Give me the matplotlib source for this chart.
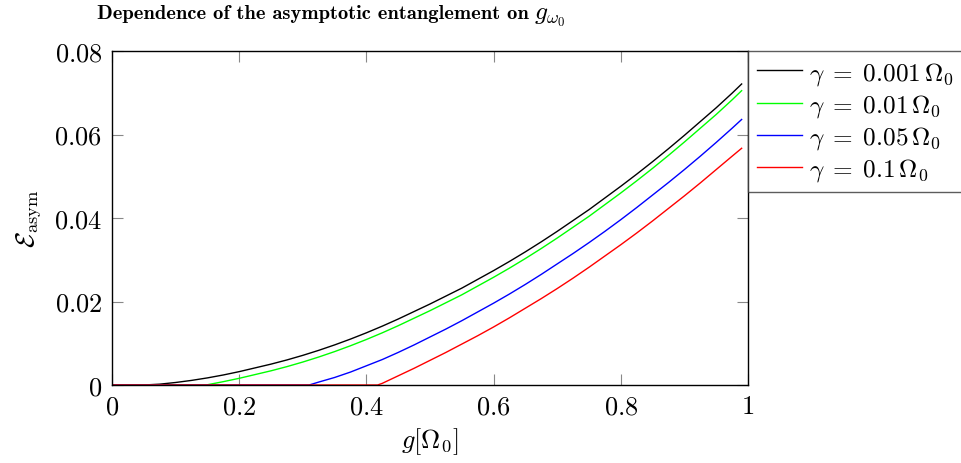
import matplotlib
matplotlib.use("Agg")
import matplotlib.pyplot as plt
from matplotlib.ticker import FixedLocator, FixedFormatter

plt.rcParams['mathtext.fontset'] = 'cm'
plt.rcParams['font.family'] = 'serif'
plt.rcParams['font.serif'] = ['cmr10', 'DejaVu Serif']
plt.rcParams['axes.unicode_minus'] = False

# ---- data ----
g_black = [0.0, 0.05, 0.075, 0.1, 0.125, 0.15, 0.175, 0.2, 0.225, 0.25, 0.275, 0.3, 0.325,
           0.35, 0.375, 0.4, 0.425, 0.45, 0.475, 0.5, 0.525, 0.55, 0.575, 0.6, 0.625, 0.65,
           0.675, 0.7, 0.725, 0.75, 0.775, 0.8, 0.825, 0.85, 0.875, 0.9, 0.925, 0.95, 0.975, 0.99]
e_black = [0.0, 0.0, 0.0002, 0.0006, 0.0011, 0.0017, 0.0024, 0.0032, 0.0041, 0.0050, 0.0060,
           0.0071, 0.0083, 0.0096, 0.0110, 0.0125, 0.0141, 0.0158, 0.0176, 0.0194, 0.0213,
           0.0232, 0.0253, 0.0274, 0.0296, 0.0319, 0.0343, 0.0368, 0.0394, 0.0420, 0.0448,
           0.0476, 0.0505, 0.0535, 0.0566, 0.0598, 0.0631, 0.0664, 0.0699, 0.0721]

g_green = [0.0, 0.148, 0.175, 0.2, 0.225, 0.25, 0.275, 0.3, 0.325, 0.35, 0.375, 0.4, 0.425,
           0.45, 0.475, 0.5, 0.525, 0.55, 0.575, 0.6, 0.625, 0.65, 0.675, 0.7, 0.725, 0.75,
           0.775, 0.8, 0.825, 0.85, 0.875, 0.9, 0.925, 0.95, 0.975, 0.99]
e_green = [0.0, 0.0, 0.0008, 0.0016, 0.0025, 0.0034, 0.0044, 0.0055, 0.0067, 0.0080, 0.0094,
           0.0109, 0.0125, 0.0142, 0.0160, 0.0178, 0.0197, 0.0216, 0.0237, 0.0258, 0.0280,
           0.0303, 0.0327, 0.0352, 0.0378, 0.0404, 0.0432, 0.0460, 0.0489, 0.0519, 0.0550,
           0.0582, 0.0615, 0.0648, 0.0683, 0.0705]

g_blue = [0.0, 0.31, 0.325, 0.35, 0.375, 0.4, 0.425, 0.45, 0.475, 0.5, 0.525, 0.55, 0.575,
          0.6, 0.625, 0.65, 0.675, 0.7, 0.725, 0.75, 0.775, 0.8, 0.825, 0.85, 0.875, 0.9,
          0.925, 0.95, 0.975, 0.99]
e_blue = [0.0, 0.0, 0.0007, 0.0018, 0.0031, 0.0046, 0.0061, 0.0078, 0.0096, 0.0115, 0.0134,
          0.0154, 0.0175, 0.0196, 0.0218, 0.0241, 0.0265, 0.0290, 0.0315, 0.0341, 0.0368,
          0.0396, 0.0425, 0.0455, 0.0485, 0.0516, 0.0548, 0.0581, 0.0615, 0.0636]

g_red = [0.0, 0.4176, 0.425, 0.45, 0.475, 0.5, 0.525, 0.55, 0.575, 0.6, 0.625, 0.65, 0.675,
         0.7, 0.725, 0.75, 0.775, 0.8, 0.825, 0.85, 0.875, 0.9, 0.925, 0.95, 0.975, 0.99]
e_red = [0.0, 0.0, 0.0004, 0.0022, 0.0040, 0.0059, 0.0078, 0.0098, 0.0118, 0.0139, 0.0161,
         0.0184, 0.0207, 0.0231, 0.0256, 0.0282, 0.0309, 0.0336, 0.0364, 0.0393, 0.0423,
         0.0453, 0.0484, 0.0516, 0.0548, 0.0567]

series_labels = [r'$\gamma \;=\; 0.001\,\Omega_0$', r'$\gamma \;=\; 0.01\,\Omega_0$',
                 r'$\gamma \;=\; 0.05\,\Omega_0$', r'$\gamma \;=\; 0.1\,\Omega_0$']
series_colors = ['black', '#00ff00', '#0000ff', '#ff0000']

x_ticks = [0, 0.2, 0.4, 0.6, 0.8, 1.0]
x_ticklabels = ['0', '0.2', '0.4', '0.6', '0.8', '1']
y_ticks = [0, 0.02, 0.04, 0.06, 0.08]
y_ticklabels = ['0', '0.02', '0.04', '0.06', '0.08']

title_words = 'Dependence of the asymptotic entanglement on'
title_math = r'$g_{\omega_0}$'
xlabel_text = r'$g[\Omega_0]$'
ylabel_text = r'$\mathcal{E}_{\mathrm{asym}}$'

# ---- figure ----
fig = plt.figure(figsize=(9.61, 4.64), dpi=100)
ax = fig.add_axes([112 / 961, 1 - 386 / 464, (748 - 112) / 961, (386 - 52) / 464])

xs = [g_black, g_green, g_blue, g_red]
ys = [e_black, e_green, e_blue, e_red]
for x, y, lab, col in zip(xs, ys, series_labels, series_colors):
    ax.plot(x, y, color=col, lw=1.0, label=lab, solid_joinstyle='round')

ax.set_xlim(0, 1)
ax.set_ylim(0, 0.08)
ax.xaxis.set_major_locator(FixedLocator(x_ticks))
ax.xaxis.set_major_formatter(FixedFormatter(['$' + t + '$' for t in x_ticklabels]))
ax.yaxis.set_major_locator(FixedLocator(y_ticks))
ax.yaxis.set_major_formatter(FixedFormatter(['$' + t + '$' for t in y_ticklabels]))
ax.tick_params(direction='in', length=8, width=0.8, color='#888888', labelsize=19,
               top=True, right=True, pad=7)
for s in ax.spines.values():
    s.set_linewidth(1.0)
    s.set_color('black')

ax.set_xlabel(xlabel_text, fontsize=19, labelpad=5)
ax.set_ylabel(ylabel_text, fontsize=19, labelpad=8)

title_y = 1 - 19 / 464
t1 = fig.text(97 / 961, title_y, title_words, fontfamily='cmb10', fontsize=14.8,
              ha='left', va='baseline')
fig.canvas.draw()
bb = t1.get_window_extent(renderer=fig.canvas.get_renderer())
fig.text((bb.x1 + 5) / 961, title_y, title_math, fontsize=18.5, ha='left', va='baseline')

leg = ax.legend(loc='upper left', bbox_to_anchor=(1.0, 1.0), borderaxespad=0.0,
                fontsize=18.2, frameon=True, fancybox=False, edgecolor='#333333',
                handlelength=1.78, handletextpad=0.3, labelspacing=0.2, borderpad=0.35)
leg.get_frame().set_linewidth(1.0)

fig.savefig('out.png', dpi=100)
